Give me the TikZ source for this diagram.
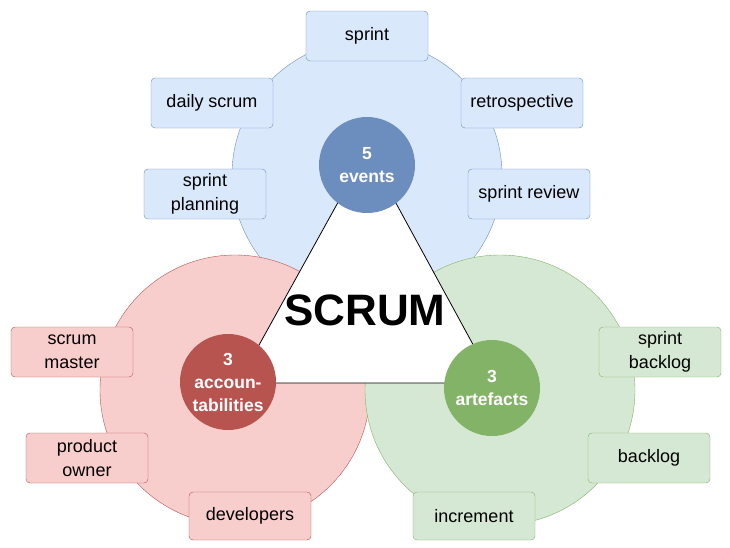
\documentclass[tikz,border=0pt]{standalone}
\usepackage{fontspec}
\setmainfont{Liberation Sans}
\definecolor{bluefill}{HTML}{DAE8FC}
\definecolor{blueline}{HTML}{6C8EBF}
\definecolor{redfill}{HTML}{F8CECC}
\definecolor{redline}{HTML}{B85450}
\definecolor{greenfill}{HTML}{D5E8D4}
\definecolor{greenline}{HTML}{82B366}
\tikzset{
  item/.style={draw, rounded corners=4pt, minimum width=122pt, minimum height=50pt,
    align=center, font=\fontsize{18}{24}\selectfont, inner sep=2pt},
  core/.style={circle, minimum size=96pt, text=white, align=center,
    font=\bfseries\fontsize{17.5}{23}\selectfont, inner sep=0pt}
}
\begin{document}
\begin{tikzpicture}[x=1pt,y=-1pt]
        \useasboundingbox (0,0) rectangle (730,547);
        % Big circles
        \node[circle, draw=blueline, fill=bluefill, minimum size=270pt] (bigE) at (367,175) {};
        \node[circle, draw=redline, fill=redfill, minimum size=270pt] (bigA) at (235,390) {};
        \node[circle, draw=greenline, fill=greenfill, minimum size=270pt] (bigR) at (500,390) {};

        % Triangle
        \coordinate (tT) at (367,150);
        \coordinate (tL) at (238,383);
        \coordinate (tR) at (494,383);
        \draw[fill=white, thick] (tT) -- (tL) -- (tR) -- cycle;
        \node[font=\bfseries\fontsize{44}{48}\selectfont] (scrum) at (365,310) {SCRUM};

        % Core circles
        \node[core, fill=blueline] (events) at (367,165) {5\\events};
        \node[core, fill=redline] (acc) at (228,382) {3\\accoun-\\tabilities};
        \node[core, fill=greenline] (art) at (492,388) {3\\artefacts};

        % Events
        \node[item, draw=blueline, fill=bluefill] (sprint) at (367,36) {sprint};
        \node[item, draw=blueline, fill=bluefill] (daily) at (212,103) {daily scrum};
        \node[item, draw=blueline, fill=bluefill] (retro) at (522,103) {retrospective};
        \node[item, draw=blueline, fill=bluefill] (plan) at (205,194) {sprint\\planning};
        \node[item, draw=blueline, fill=bluefill] (review) at (529,194) {sprint review};

        % Accountabilities
        \node[item, draw=redline, fill=redfill] (master) at (72,352) {scrum\\master};
        \node[item, draw=redline, fill=redfill] (owner) at (87,458) {product\\owner};
        \node[item, draw=redline, fill=redfill, minimum height=48pt] (devs) at (250,516) {developers};

        % Artefacts
        \node[item, draw=greenline, fill=greenfill] (sback) at (660,352) {sprint\\backlog};
        \node[item, draw=greenline, fill=greenfill] (back) at (649,458) {backlog};
        \node[item, draw=greenline, fill=greenfill, minimum height=48pt] (incr) at (474,516) {increment};
\end{tikzpicture}
\end{document}
